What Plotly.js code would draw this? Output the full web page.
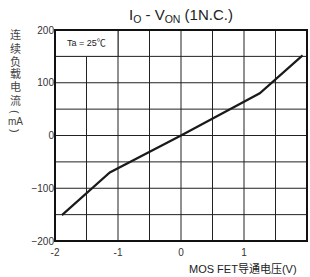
<!DOCTYPE html>
<html><head><meta charset="utf-8">
<script src="https://cdn.plot.ly/plotly-3.0.1.min.js"></script>
<style>html,body{margin:0;padding:0;background:#fff;}</style>
</head><body>
<div id="chart" style="width:310px;height:277px;"></div>
<script>
const voltage = [-1.89, -1.13, 0, 1.25, 1.93];
const current = [-151, -70, 0, 80, 152];
const xTicks = [-2, -1, 0, 1, 2];
const yTicks = [-200, -100, 0, 100, 200];
const chartTitle = "I<sub>O</sub> - V<sub>ON</sub> (1N.C.)";
const xTitle = "MOS FET导通电压(V)";
const yTitleChars = ["连","续","负","载","电","流","(","mA",")"];
const legendText = "Ta = 25℃";

const font = "Liberation Sans, Arial, Noto Sans CJK SC, sans-serif";
const data = [{
  x: voltage, y: current, type: "scatter", mode: "lines",
  line: {color: "#1a1a1a", width: 2.2}, hoverinfo: "skip"
}];
const layout = {
  width: 310, height: 277,
  margin: {l: 55, r: 3, t: 30, b: 36},
  paper_bgcolor: "#fff", plot_bgcolor: "#fff",
  showlegend: false,
  font: {family: font, color: "#333", size: 10},
  xaxis: {range: [-2, 2], tickvals: xTicks, ticktext: xTicks.map(String),
    showgrid: false, zeroline: false, showline: false, ticklabelstandoff: 4,
    ticks: "", tickfont: {size: 10, color: "#333"}, fixedrange: true},
  yaxis: {range: [-200, 200], tickvals: yTicks, showgrid: false, zeroline: false,
    showline: false, ticks: "", tickfont: {size: 10, color: "#333"}, fixedrange: true},
  shapes: [],
  annotations: [
    {text: chartTitle, xref: "paper", yref: "paper", x: 0.5, y: 1, yshift: 3,
     yanchor: "bottom", showarrow: false, font: {size: 15, color: "#222", family: font}},
    {text: xTitle, xref: "paper", yref: "paper", x: 1, xshift: -8, y: 0, yshift: -20,
     xanchor: "right", yanchor: "top", showarrow: false, font: {size: 11, color: "#222", family: font}},
    {text: legendText, xref: "x", yref: "y", x: -1.5, y: 175, showarrow: false,
     font: {size: 9, color: "#222", family: font}}
  ]
};
// vertical y-axis title, one character per row; parentheses turned to run vertically
const charY = [35, 48, 61, 74, 87, 100, 112, 121.5, 131];
yTitleChars.forEach((c, i) => {
  const paren = (c === "(" || c === ")");
  layout.annotations.push({text: c, xref: "paper", yref: "paper", x: 0, xshift: -40,
    y: 1, yshift: -(charY[i] - 30), xanchor: "center", yanchor: "middle", showarrow: false,
    textangle: paren ? 90 : 0,
    font: {size: (c === "mA") ? 10 : 11, color: "#444", family: font}});
});
// grid lines at every 0.5 V and 50 mA
for (let i = 1; i < 8; i++) {
  const xv = -2 + i * 0.5;
  layout.shapes.push({type: "line", xref: "x", yref: "y", x0: xv, x1: xv, y0: -200, y1: 200,
    line: {color: "#222", width: 1}, layer: "below"});
  const yv = -200 + i * 50;
  layout.shapes.push({type: "line", xref: "x", yref: "y", x0: -2, x1: 2, y0: yv, y1: yv,
    line: {color: "#222", width: 1}, layer: "below"});
}
// legend box
layout.shapes.push({type: "rect", xref: "x", yref: "y", x0: -2, x1: -1, y0: 150, y1: 200,
  fillcolor: "#fff", line: {color: "#222", width: 1}, layer: "above"});
// frame
layout.shapes.push({type: "rect", xref: "paper", yref: "paper", x0: 0, x1: 1, y0: 0, y1: 1,
  line: {color: "#111", width: 2}, layer: "above"});
Plotly.newPlot("chart", data, layout, {displayModeBar: false, staticPlot: true});
</script>
</body></html>
